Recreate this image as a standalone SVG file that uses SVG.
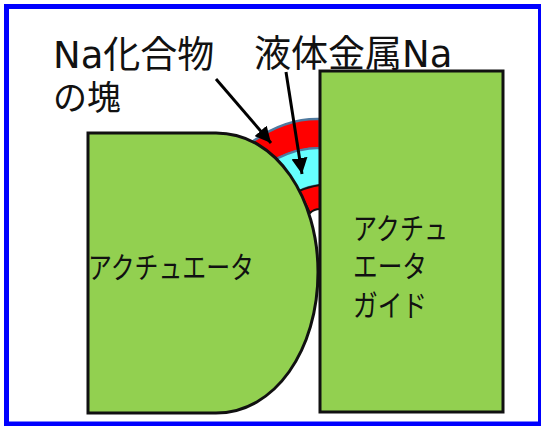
<svg xmlns="http://www.w3.org/2000/svg" width="541" height="426" viewBox="0 0 541 426">
<style>
.l{font-family:"DejaVu Sans","Noto Sans CJK JP",sans-serif;font-size:37px;fill:#111}
.s{font-family:"Noto Sans CJK JP",sans-serif;font-size:30px;fill:#111}
.b{fill:#92d050;stroke:#111;stroke-width:3}
</style>
<defs><marker id="a" markerUnits="userSpaceOnUse" markerWidth="17" markerHeight="16" refX="16" refY="8" orient="auto"><path d="M0 0L16 8L0 16z" fill="#000"/></marker></defs>
<rect x="6.500" y="6.500" width="534" height="417.500" fill="#fff" stroke="#00f" stroke-width="5"/>
<g id="deposit">
<path d="M252 142Q285 118 320 119V148Q298 148 276 159Z" fill="#f00" stroke="#4f7a9f" stroke-width="2.500"/>
<path d="M276 159Q298 148 320 148V185Q308 186 299 191Z" fill="#6ff" stroke="#4f7a9f" stroke-width="2"/>
<path d="M299 191Q308 187 320 185V209Q314 209 310 213Z" fill="#f00" stroke="#111" stroke-width="2"/>
</g>
<g id="actuator">
<path class="b" d="M88 133H216C278 133 318 200 318 272C318 350 275 413 216 413H88Z"/>
<text class="s" x="88" y="278" textLength="166" lengthAdjust="spacingAndGlyphs">アクチュエータ</text>
</g>
<g id="guide">
<rect class="b" x="320" y="71" width="183" height="341"/>
<text class="s" x="353" y="239" textLength="95" lengthAdjust="spacingAndGlyphs">アクチュ</text>
<text class="s" x="353" y="277" textLength="74" lengthAdjust="spacingAndGlyphs">エータ</text>
<text class="s" x="353" y="316" textLength="74" lengthAdjust="spacingAndGlyphs">ガイド</text>
</g>
<g id="labels">
<text class="l" x="53" y="68">Na化合物</text>
<text class="l" x="53" y="110" style="font-size:34px">の塊</text>
<text class="l" x="254" y="67">液体金属Na</text>
</g>
<g id="connectors" fill="none" stroke="#000" stroke-width="3" marker-end="url(#a)">
<line x1="216" y1="79" x2="271" y2="143"/>
<line x1="286" y1="72" x2="302" y2="174"/>
</g>
</svg>
